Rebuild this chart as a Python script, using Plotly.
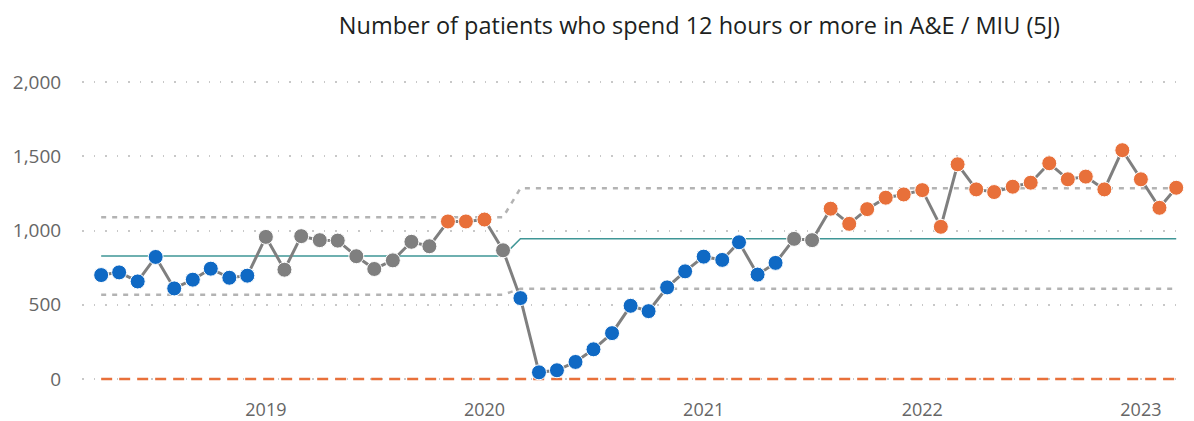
import plotly.graph_objects as go
import pandas as pd

# Monthly counts, Apr 2018 - Mar 2023
months = pd.date_range("2018-04-01", "2023-03-01", freq="MS")

patients = [
    700, 718, 657, 822, 610, 669, 743, 682, 696,            # 2018 Apr-Dec
    957, 736, 962, 935, 932, 827, 741, 799, 924, 894, 1061, 1061,  # 2019
    1074, 867, 545, 45, 59, 115, 200, 309, 493, 457, 617, 725,     # 2020
    824, 802, 921, 703, 782, 944, 935, 1147, 1045, 1144, 1221, 1243,  # 2021
    1272, 1025, 1446, 1277, 1259, 1295, 1322, 1453, 1345, 1363, 1277, 1541,  # 2022
    1345, 1153, 1288,                                        # 2023 Jan-Mar
]

# SPC point flag: 'low' = improvement run (blue), 'high' = concern (orange)
flags = (["low"] * 9 + ["none"] * 10 + ["high"] * 3 + ["none"]
         + ["low"] * 15 + ["none"] * 2 + ["high"] * 20)

# process limits for the two periods (split at Mar 2020)
period_split = 23
mean_vals = [828, 944]
ucl_vals = [1090, 1284]
lcl_vals = [568, 608]
target = 0

colours = {"low": "#0f69c4", "none": "#7f7f7f", "high": "#e8703a"}


def per_period(vals):
    return [vals[0]] * period_split + [vals[1]] * (len(months) - period_split)


fig = go.Figure()

fig.add_trace(go.Scatter(x=months, y=[target] * len(months), mode="lines",
                         line=dict(color="#e8703a", width=2.5, dash="11px,7px"),
                         hoverinfo="skip"))

fig.add_trace(go.Scatter(x=months, y=per_period(ucl_vals), mode="lines",
                         line=dict(color="#b3b3b3", width=2.5, dash="5px,6px")))
fig.add_trace(go.Scatter(x=months, y=per_period(lcl_vals), mode="lines",
                         line=dict(color="#b3b3b3", width=2.5, dash="5px,6px")))
fig.add_trace(go.Scatter(x=months, y=per_period(mean_vals), mode="lines",
                         line=dict(color="#3f9696", width=1.5)))

fig.add_trace(go.Scatter(x=months, y=patients, mode="lines+markers",
                         line=dict(color="#7f7f7f", width=3),
                         marker=dict(size=15, color=[colours[f] for f in flags],
                                     line=dict(color="white", width=1))))

# page body has an 8px margin, so the figure is 8px smaller each way
fig.update_layout(
    width=1186, height=413,
    margin=dict(l=74, r=4, t=62, b=31),
    paper_bgcolor="white", plot_bgcolor="white",
    showlegend=False,
    title=dict(text="Number of patients who spend 12 hours or more in A&E / MIU (5J)",
               x=0.583, xanchor="center", y=0.958, yanchor="middle",
               font=dict(family="Open Sans", size=23.5, color="#201f1e")),
)

fig.update_xaxes(
    type="date", range=["2018-02-28", "2023-03-24"],
    tickvals=["2019-01-01", "2020-01-01", "2021-01-01", "2022-01-01", "2023-01-01"],
    ticktext=["2019", "2020", "2021", "2022", "2023"],
    showgrid=False, zeroline=False, showline=False, automargin=False,
    ticks="outside", ticklen=3, tickcolor="rgba(0,0,0,0)",
    tickfont=dict(family="Open Sans", size=18, color="#666666"),
)

fig.update_yaxes(
    range=[-74, 2081],
    tickvals=[0, 500, 1000, 1500, 2000],
    tickformat=",d",
    showgrid=True, gridcolor="#c8c8c8", griddash="1.5px,10px", gridwidth=1.5,
    zeroline=False, showline=False, automargin=False,
    ticks="outside", ticklen=16, tickcolor="rgba(0,0,0,0)",
    tickfont=dict(family="Open Sans", size=19, color="#666666"),
)

fig.write_html("out.html")
